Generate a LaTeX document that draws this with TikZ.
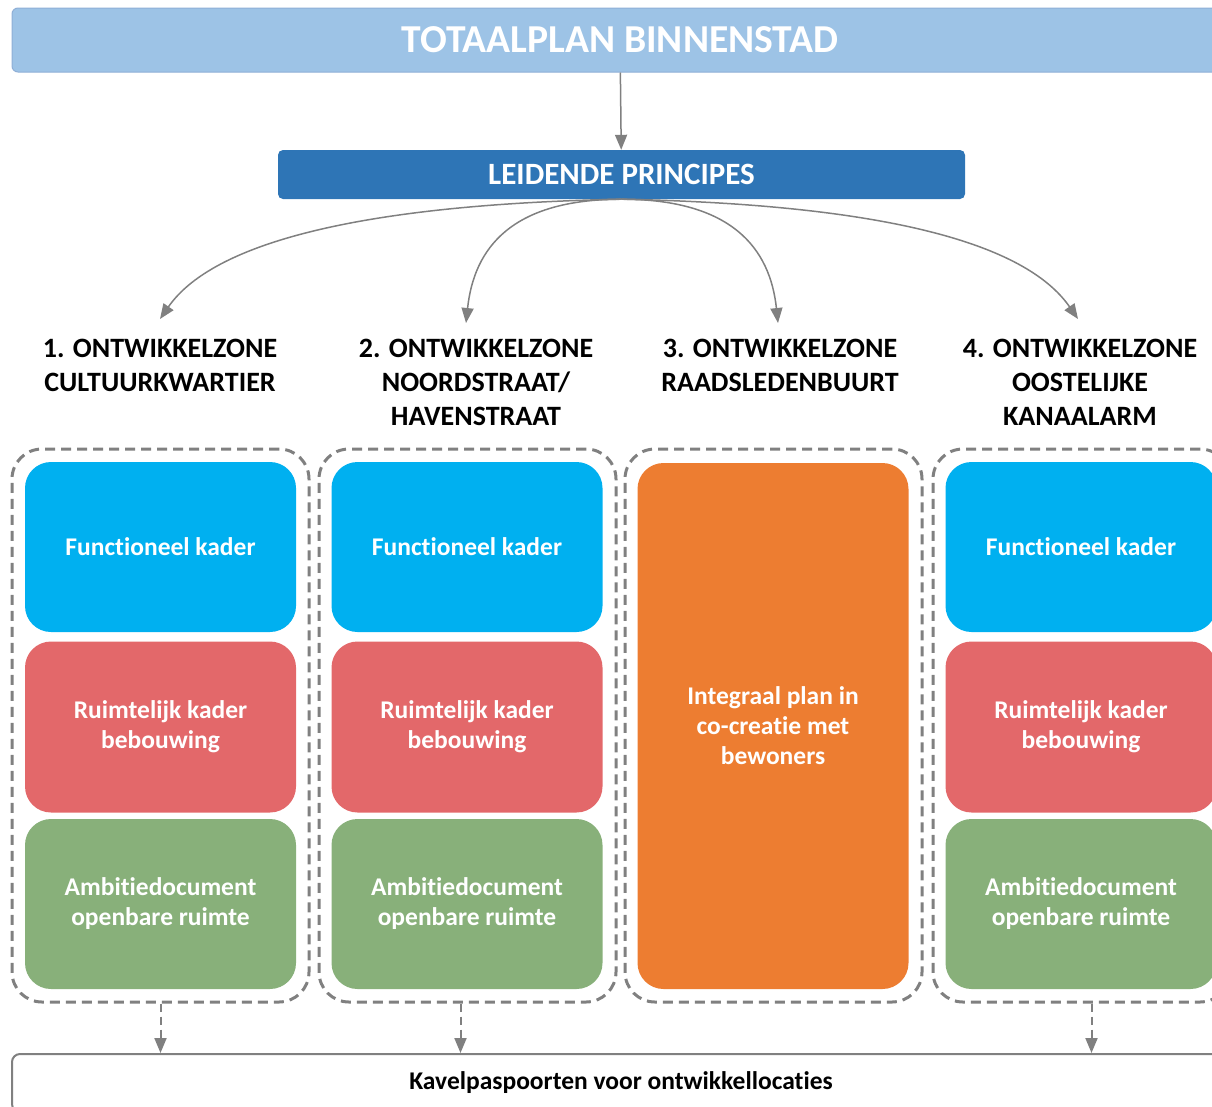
\documentclass[tikz,border=0pt]{standalone}
\usepackage{fontspec}
\setmainfont{Carlito}[Ligatures = NoCommon]
\usetikzlibrary{arrows.meta}
\definecolor{plancolor}{HTML}{9DC3E6}
\definecolor{planborder}{HTML}{8FAFD6}
\definecolor{principecolor}{HTML}{2E75B6}
\definecolor{functioncolor}{HTML}{00B0F0}
\definecolor{spacecolor}{HTML}{E3686A}
\definecolor{ambitioncolor}{HTML}{88B07A}
\definecolor{integralcolor}{HTML}{ED7D31}
\definecolor{linkgray}{HTML}{808080}

\begin{document}
\begin{tikzpicture}[x = 1pt, y = -1pt,
        zonebox/.style = {draw = linkgray, line width = 3pt, dash pattern = on 10pt off 6pt, rounded corners = 30pt, minimum width = 297pt, minimum height = 553pt},
        kader/.style = {rounded corners = 26pt, minimum width = 271pt, text = white, align = center, font = \fontsize{25.5}{30}\selectfont\bfseries},
        heading/.style = {anchor = north, inner sep = 0pt, align = center, font = \fontsize{28}{34}\selectfont\bfseries},
        link/.style = {-{Triangle[length = 15pt, width = 12pt]}, line width = 1.5pt, color = linkgray},
        dashlink/.style = {link, line width = 2pt, dash pattern = on 8pt off 5pt}]
        \useasboundingbox (0, 0) rectangle (1212, 1106);

        % Nodes
        \node [fill = plancolor, draw = planborder, line width = 1pt, rounded corners = 6pt, minimum width = 1216pt, minimum height = 64pt, text = white, font = \fontsize{39.6}{46}\selectfont\bfseries] (plan) at (620, 40) {TOTAALPLAN BINNENSTAD};
        \node [fill = principecolor, rounded corners = 5pt, minimum width = 687pt, minimum height = 49pt, text = white, font = \fontsize{31}{36}\selectfont\bfseries] (lp) at (621.5, 174.5) {LEIDENDE PRINCIPES};

        \node [heading] (h1) at (160, 339) {1. ONTWIKKELZONE\\CULTUURKWARTIER};
        \node [heading] (h2) at (476, 339) {2. ONTWIKKELZONE\\NOORDSTRAAT/\\HAVENSTRAAT};
        \node [heading] (h3) at (780, 339) {3. ONTWIKKELZONE\\RAADSLEDENBUURT};
        \node [heading] (h4) at (1080, 339) {4. ONTWIKKELZONE\\OOSTELIJKE\\KANAALARM};

        % Zones
        \node [zonebox] (z1) at (160.5, 725.5) {};
        \node [zonebox] (z2) at (467.5, 725.5) {};
        \node [zonebox] (z3) at (773.5, 725.5) {};
        \node [zonebox] (z4) at (1081.5, 725.5) {};

        \node [kader, fill = functioncolor, minimum height = 170pt] (f1) at (160.5, 547) {Functioneel kader};
        \node [kader, fill = spacecolor, minimum height = 171pt] (r1) at (160.5, 727) {Ruimtelijk kader\\bebouwing};
        \node [kader, fill = ambitioncolor, minimum height = 170pt] (a1) at (160.5, 904) {Ambitiedocument\\openbare ruimte};

        \node [kader, fill = functioncolor, minimum height = 170pt] (f2) at (467, 547) {Functioneel kader};
        \node [kader, fill = spacecolor, minimum height = 171pt] (r2) at (467, 727) {Ruimtelijk kader\\bebouwing};
        \node [kader, fill = ambitioncolor, minimum height = 170pt] (a2) at (467, 904) {Ambitiedocument\\openbare ruimte};

        \node [kader, fill = integralcolor, minimum height = 526pt] (i3) at (773, 726) {Integraal plan in\\co-creatie met\\bewoners};

        \node [kader, fill = functioncolor, minimum height = 170pt] (f4) at (1081, 547) {Functioneel kader};
        \node [kader, fill = spacecolor, minimum height = 171pt] (r4) at (1081, 727) {Ruimtelijk kader\\bebouwing};
        \node [kader, fill = ambitioncolor, minimum height = 170pt] (a4) at (1081, 904) {Ambitiedocument\\openbare ruimte};

        \node [draw = linkgray, line width = 2pt, fill = white, rounded corners = 8pt, minimum width = 1218pt, minimum height = 58pt, font = \fontsize{25.5}{28}\selectfont\bfseries] (kp) at (621, 1083) {Kavelpaspoorten voor ontwikkellocaties};

        % Draw the links
        \draw [link] (plan) -- (lp);
        \draw [link] (lp.south) .. controls +(-300, 6) and +(45, -65) .. ([yshift = 20pt]h1.north);
        \draw [link] (lp.south) .. controls +(-110, 0) and +(8, -75) .. ([xshift = -10pt, yshift = 16pt]h2.north);
        \draw [link] (lp.south) .. controls +(110, 0) and +(-8, -75) .. ([xshift = -2pt, yshift = 16pt]h3.north);
        \draw [link] (lp.south) .. controls +(300, 6) and +(-45, -65) .. ([xshift = -2pt, yshift = 20pt]h4.north);

        \draw [dashlink] (z1.south) -- (z1.south |- kp.north);
        \draw [dashlink] ([xshift = -7pt]z2.south) -- ([xshift = -7pt]z2.south |- kp.north);
        \draw [dashlink] ([xshift = 10pt]z4.south) -- ([xshift = 10pt]z4.south |- kp.north);

    \end{tikzpicture}
\end{document}
